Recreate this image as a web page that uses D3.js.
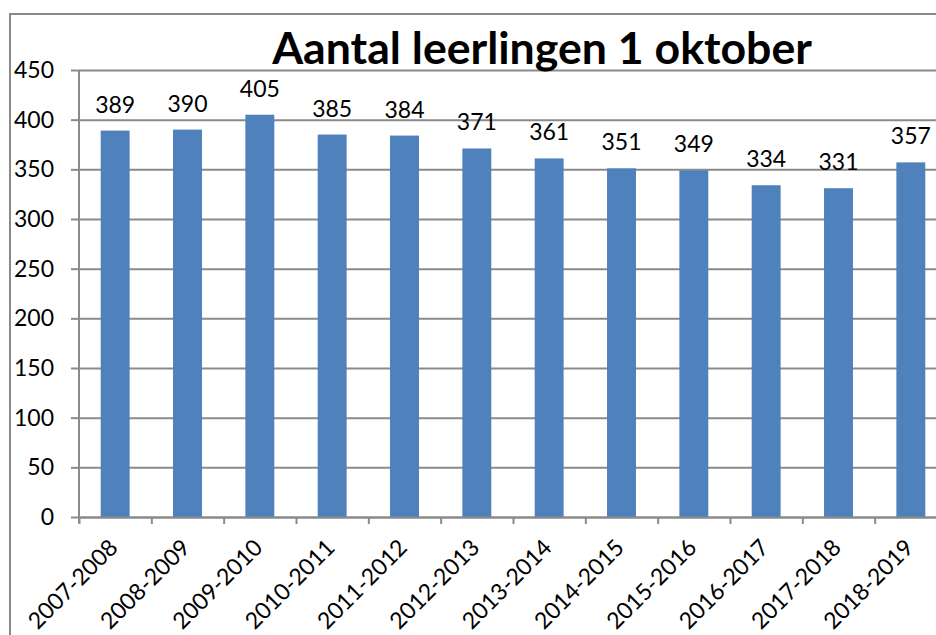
<!DOCTYPE html>
<html>
<head>
<meta charset="utf-8">
<script src="https://cdn.jsdelivr.net/npm/d3@7"></script>
<style>
  body { margin: 0; background: #fff; }
  svg { display: block; font-family: Lato, "Open Sans", sans-serif; }
  .grid line { stroke: #8a8a8a; stroke-width: 2; }
  .grid path { display: none; }
  .axis path, .axis line { stroke: #8a8a8a; stroke-width: 2; }
  .axis text { fill: #000; font-size: 23px; font-family: Lato, sans-serif; }
</style>
</head>
<body>
<script>
var seasons = ["2007-2008", "2008-2009", "2009-2010", "2010-2011", "2011-2012", "2012-2013",
    "2013-2014", "2014-2015", "2015-2016", "2016-2017", "2017-2018", "2018-2019"];
var pupils = [389, 390, 405, 385, 384, 371, 361, 351, 349, 334, 331, 357];
var yTicks = [0, 50, 100, 150, 200, 250, 300, 350, 400, 450];

var width = 936, height = 635;
var plotLeft = 79, plotRight = 947, plotTop = 70, plotBottom = 517;

var svg = d3.select("body").append("svg")
    .attr("width", width)
    .attr("height", height);

// outer chart border (runs off the picture on the right and bottom)
svg.append("rect")
    .attr("x", 10)
    .attr("y", 14)
    .attr("width", 1200)
    .attr("height", 800)
    .attr("fill", "none")
    .attr("stroke", "#8a8a8a")
    .attr("stroke-width", 2);

var x = d3.scaleBand()
    .domain(seasons)
    .range([plotLeft, plotRight])
    .paddingInner(0.6)
    .paddingOuter(0.3);

var y = d3.scaleLinear()
    .domain([0, 450])
    .range([plotBottom, plotTop]);

// gridlines
svg.append("g")
    .attr("class", "grid")
    .attr("transform", "translate(" + plotLeft + ",0)")
    .call(d3.axisRight(y).tickValues(yTicks).tickFormat("").tickSize(width));

// y axis
var yAxis = svg.append("g")
    .attr("class", "axis")
    .attr("transform", "translate(" + plotLeft + ",0)")
    .call(d3.axisLeft(y).tickValues(yTicks).tickSize(8).tickPadding(17).tickSizeOuter(0));
yAxis.select(".domain").attr("d", "M0," + plotTop + "V" + (plotBottom + 6));

// bars
svg.append("g").selectAll("rect")
    .data(pupils)
    .enter().append("rect")
    .attr("x", function (d, i) { return x(seasons[i]); })
    .attr("y", function (d) { return y(d); })
    .attr("width", x.bandwidth())
    .attr("height", function (d) { return y(0) - y(d); })
    .attr("fill", "#4f81bd");

// x axis baseline with ticks at category boundaries
var xb = d3.scaleLinear().domain([0, seasons.length]).range([plotLeft, plotLeft + x.step() * seasons.length]);
svg.append("g")
    .attr("class", "axis")
    .attr("transform", "translate(0," + plotBottom + ")")
    .call(d3.axisBottom(xb).ticks(seasons.length).tickFormat("").tickSize(7).tickSizeOuter(0));

// category labels
svg.append("g").selectAll("text")
    .data(seasons)
    .enter().append("text")
    .attr("transform", function (d) {
        return "translate(" + (x(d) + x.bandwidth() / 2 + 4) + "," + 549 + ") rotate(-45)";
    })
    .attr("text-anchor", "end")
    .attr("font-size", 23)
    .text(function (d) { return d; });

// value labels
svg.append("g").selectAll("text")
    .data(pupils)
    .enter().append("text")
    .attr("x", function (d, i) { return x(seasons[i]) + x.bandwidth() / 2; })
    .attr("y", function (d) { return y(d) - 18; })
    .attr("text-anchor", "middle")
    .attr("font-size", 23)
    .text(function (d) { return d; });

// title
var title = svg.append("text")
    .attr("x", 542)
    .attr("y", 64)
    .attr("text-anchor", "middle")
    .attr("font-weight", "bold")
    .attr("font-size", 44)
    .text("Aantal leerlingen 1 oktober");
var tw = title.node().getComputedTextLength();
title.attr("font-size", 44 * 540 / tw);
</script>
</body>
</html>
